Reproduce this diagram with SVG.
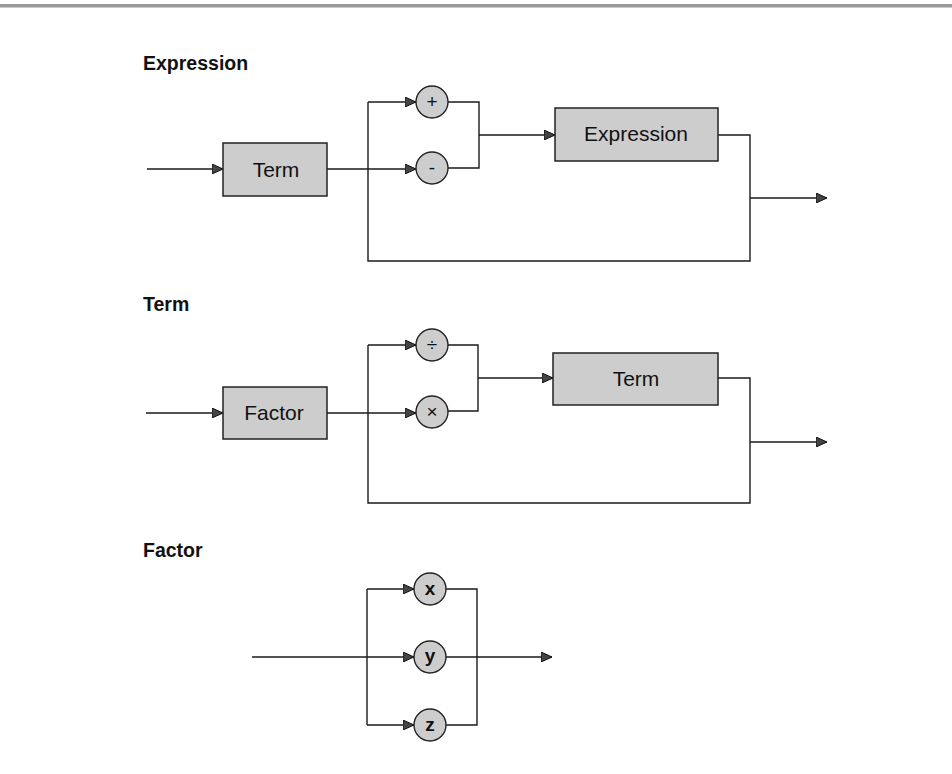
<svg xmlns="http://www.w3.org/2000/svg" width="952" height="774" viewBox="0 0 952 774">
  <style>
    .title { font-family: "Liberation Sans", Arial, sans-serif; font-weight: bold; font-size: 19.5px; fill: #111; }
    .box rect { fill: #cdcdcd; stroke: #222; stroke-width: 1.5; }
    .box text { font-family: "Liberation Sans", Arial, sans-serif; font-size: 21px; fill: #111; text-anchor: middle; }
    .op circle { fill: #cdcdcd; stroke: #222; stroke-width: 1.4; }
    .op text { font-family: "Liberation Sans", Arial, sans-serif; font-size: 19px; fill: #111; text-anchor: middle; }
    .op text.var { font-weight: bold; font-size: 19px; }
    #connectors path { fill: none; stroke: #1a1a1a; stroke-width: 1.4; }
  </style>
  <defs>
    <marker id="arrow" viewBox="0 0 11 10" refX="11" refY="5" markerWidth="11" markerHeight="10" markerUnits="userSpaceOnUse" orient="auto">
      <path d="M0,0 L11,5 L0,10 Z" fill="#444" stroke="#111" stroke-width="1"/>
    </marker>
  </defs>

  <rect x="0" y="0" width="952" height="774" fill="#ffffff"/>
  <!-- top rule -->
  <rect x="0" y="4" width="952" height="3.5" fill="#9a9a9a"/>

  <!-- section titles -->
  <text class="title" x="143" y="70">Expression</text>
  <text class="title" x="143" y="311">Term</text>
  <text class="title" x="143" y="557">Factor</text>

  <g id="connectors">
    <!-- Expression -->
    <path d="M147,169 H223" marker-end="url(#arrow)"/>
    <path d="M327,169 H368"/>
    <path d="M368,102 V261 H750 V135 H718"/>
    <path d="M368,102 H416" marker-end="url(#arrow)"/>
    <path d="M368,169 H416" marker-end="url(#arrow)"/>
    <path d="M448,102 H479 V168 H448"/>
    <path d="M479,135 H555" marker-end="url(#arrow)"/>
    <path d="M750,198 H827" marker-end="url(#arrow)"/>

    <!-- Term -->
    <path d="M146,413 H223" marker-end="url(#arrow)"/>
    <path d="M327,413 H368"/>
    <path d="M368,345 V503 H750 V378 H718"/>
    <path d="M368,345 H416" marker-end="url(#arrow)"/>
    <path d="M368,413 H416" marker-end="url(#arrow)"/>
    <path d="M448,345 H478 V411 H448"/>
    <path d="M478,378 H553" marker-end="url(#arrow)"/>
    <path d="M750,442 H827" marker-end="url(#arrow)"/>

    <!-- Factor -->
    <path d="M252,657 H414" marker-end="url(#arrow)"/>
    <path d="M367,589 V725"/>
    <path d="M367,589 H414" marker-end="url(#arrow)"/>
    <path d="M367,725 H414" marker-end="url(#arrow)"/>
    <path d="M446,589 H477 V725 H446"/>
    <path d="M446,657 H552" marker-end="url(#arrow)"/>
  </g>

  <!-- Expression nodes -->
  <g id="expr-term" class="box">
    <rect x="223" y="143" width="104" height="53"/>
    <text x="276" y="177">Term</text>
  </g>
  <g id="expr-plus" class="op">
    <circle cx="432" cy="102" r="16"/>
    <text x="432" y="108">+</text>
  </g>
  <g id="expr-minus" class="op">
    <circle cx="432" cy="168" r="16"/>
    <text x="432" y="174">-</text>
  </g>
  <g id="expr-expression" class="box">
    <rect x="555" y="108" width="163" height="53"/>
    <text x="636" y="141">Expression</text>
  </g>

  <!-- Term nodes -->
  <g id="term-factor" class="box">
    <rect x="223" y="387" width="104" height="52"/>
    <text x="274" y="420">Factor</text>
  </g>
  <g id="term-divide" class="op">
    <circle cx="432" cy="345" r="16"/>
    <text x="432" y="351">÷</text>
  </g>
  <g id="term-multiply" class="op">
    <circle cx="432" cy="412" r="16"/>
    <text x="432" y="418">×</text>
  </g>
  <g id="term-term" class="box">
    <rect x="553" y="353" width="165" height="52"/>
    <text x="636" y="386">Term</text>
  </g>

  <!-- Factor nodes -->
  <g id="factor-x" class="op">
    <circle cx="430" cy="589" r="16"/>
    <text class="var" x="430" y="595">x</text>
  </g>
  <g id="factor-y" class="op">
    <circle cx="430" cy="657" r="16"/>
    <text class="var" x="430" y="662">y</text>
  </g>
  <g id="factor-z" class="op">
    <circle cx="430" cy="725" r="16"/>
    <text class="var" x="430" y="731">z</text>
  </g>
</svg>
